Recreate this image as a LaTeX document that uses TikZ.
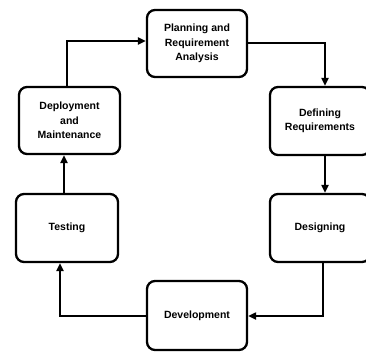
\documentclass[tikz,border=0pt]{standalone}
\usepackage{fontspec}
\setmainfont{Liberation Sans}
\usetikzlibrary{arrows.meta}
\begin{document}
\begin{tikzpicture}[x=1pt,y=-1pt,
  stage/.style={draw,line width=2.3pt,rounded corners=8pt,align=center,font=\fontsize{10.5}{14.5}\selectfont\bfseries,inner sep=0pt},
  flow/.style={line width=2.5pt,-{Triangle[length=8pt,width=7pt]}}]
\useasboundingbox (0,0) rectangle (366,353);
\node[stage,minimum width=100pt,minimum height=67pt] (plan) at (197,43.5) {Planning and\\Requirement\\Analysis};
\node[stage,minimum width=101pt,minimum height=67pt] (deploy) at (69.5,120.5) {Deployment\\and\\Maintenance};
\node[stage,minimum width=100pt,minimum height=68pt] (define) at (320,121) {Defining\\Requirements};
\node[stage,minimum width=102pt,minimum height=68pt] (test) at (67,228) {Testing};
\node[stage,minimum width=100pt,minimum height=68pt] (design) at (320,228) {Designing};
\node[stage,minimum width=100pt,minimum height=69pt] (dev) at (197,315.5) {Development};
\coordinate (c1) at (67,41);
\coordinate (c2) at (325,43);
\coordinate (c3) at (323,316);
\coordinate (c4) at (60,316);
\draw[flow] (deploy.north -| c1) |- (plan.west |- c1);
\draw[flow] (plan.east |- c2) -| (define.north -| c2);
\draw[flow] (define.south -| c2) -- (design.north -| c2);
\draw[flow] (design.south -| c3) |- (dev.east |- c3);
\draw[flow] (dev.west |- c4) -| (test.south -| c4);
\draw[flow] (test.north -| 64,0) -- (deploy.south -| 64,0);
\end{tikzpicture}
\end{document}
